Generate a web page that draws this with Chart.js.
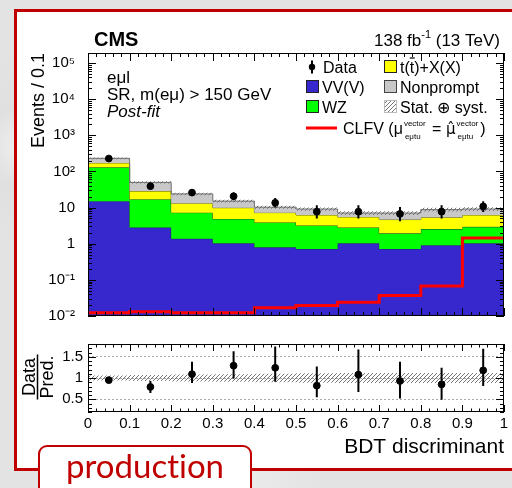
<!DOCTYPE html>
<html>
<head>
<meta charset="utf-8">
<script src="https://cdn.jsdelivr.net/npm/chart.js@4.4.1/dist/chart.umd.min.js"></script>
<style>
html,body{margin:0;padding:0;}
body{width:512px;height:488px;position:relative;overflow:hidden;
 background:#e3e3e3;
 background-image:radial-gradient(circle at 5% 30%,#f2f2f2 0,#e0e0e0 40px,transparent 90px),
  radial-gradient(circle at 40% 100%,#efefef 0,transparent 120px);}
#frame{position:absolute;left:14px;top:9px;width:520px;height:462px;box-sizing:border-box;
 border:3px solid #c00000;background:#fff;}
canvas{position:absolute;left:0;}
#main{top:0;}
#ratio{top:330px;}
#prod{position:absolute;left:38px;top:445px;width:214px;height:60px;box-sizing:border-box;
 border:2.5px solid #c00000;border-radius:9px;background:#fff;color:#c00000;
 font-family:Lato,'Open Sans',sans-serif;font-size:33px;line-height:33px;text-align:center;padding-top:2px;
 font-variant-ligatures:none;}
</style>
</head>
<body>
<div id="frame"></div>
<canvas id="main" width="512" height="330"></canvas>
<canvas id="ratio" width="512" height="130"></canvas>
<div id="prod">production</div>

<script>
// -----------------------------
// DATA
// -----------------------------

const binEdges = [0, 0.1, 0.2, 0.3, 0.4, 0.5, 0.6, 0.7, 0.8, 0.9, 1.0];

const vvv       = [15.1, 2.82, 1.38, 1.03, 0.80, 0.72, 1.03, 0.72, 0.91, 1.03];
const wz        = [116, 14.3, 5.88, 3.82, 3.07, 2.48, 1.79, 1.22, 1.63, 1.90];
const ttx       = [41, 11.5, 6.0, 5.08, 3.39, 3.04, 2.68, 2.73, 2.86, 3.31];
const nonprompt = [59, 21.2, 10.7, 5.2, 3.0, 2.9, 1.6, 2.4, 3.4, 2.9];
const clfv      = [0.0123, 0.0131, 0.0123, 0.0123, 0.0169, 0.0196, 0.0241, 0.0368, 0.0673, 1.44];

const dataVals  = [228, 39.2, 26.0, 20.6, 13.6, 7.7, 7.7, 6.7, 7.7, 10.8];
const dataErrLo = [15, 6.2, 5.0, 4.5, 3.6, 2.7, 2.7, 2.5, 2.7, 3.2];
const dataErrHi = [15, 7.2, 6.1, 5.6, 4.7, 3.9, 3.9, 3.7, 3.9, 4.3];

const uncRel    = [0.06, 0.07, 0.08, 0.09, 0.10, 0.11, 0.12, 0.12, 0.12, 0.12];

const ratioVals = [0.95, 0.79, 1.09, 1.29, 1.24, 0.82, 1.08, 0.93, 0.85, 1.18];
const ratioLo   = [0.92, 0.65, 0.88, 0.99, 0.91, 0.55, 0.67, 0.52, 0.49, 0.81];
const ratioHi   = [0.98, 0.93, 1.38, 1.63, 1.74, 1.27, 1.67, 1.38, 1.24, 1.69];

const yTickVals   = [0.01, 0.1, 1, 10, 100, 1000, 10000, 100000];
const yTickLabels = ["10⁻²", "10⁻¹", "1", "10", "10²", "10³", "10⁴", "10⁵"];
const xTickVals   = [0, 0.1, 0.2, 0.3, 0.4, 0.5, 0.6, 0.7, 0.8, 0.9, 1];
const xTickLabels = ["0", "0.1", "0.2", "0.3", "0.4", "0.5", "0.6", "0.7", "0.8", "0.9", "1"];
const rTickVals   = [0.5, 1, 1.5];
const rTickLabels = ["0.5", "1", "1.5"];

// -----------------------------
// HELPERS
// -----------------------------

const FONT = "'Liberation Sans', Arial, sans-serif";
const DJV = "'DejaVu Sans', sans-serif";
Chart.defaults.font.family = FONT;
Chart.defaults.color = "#000";

const BLUE = "#3628cc", GREEN = "#00ff00", YELLOW = "#ffff00", GRAY = "#c8c8c8";

function stepPts(vals){
return binEdges.map((x,i)=>({x:x, y:vals[Math.min(i, vals.length-1)]}));
}

const centers = binEdges.slice(0,-1).map((x,i)=>(x+binEdges[i+1])/2);

function makeHatch(color){
const c = document.createElement("canvas");
c.width = 4; c.height = 4;
const g = c.getContext("2d");
g.strokeStyle = color; g.lineWidth = 0.9;
g.beginPath();
g.moveTo(0,4); g.lineTo(4,0);
g.moveTo(-1,1); g.lineTo(1,-1);
g.moveTo(3,5); g.lineTo(5,3);
g.stroke();
return g.createPattern(c, "repeat");
}

const hatch = makeHatch("#666");

// cumulative stack
const cum1 = vvv.slice();
const cum2 = cum1.map((v,i)=>v+wz[i]);
const cum3 = cum2.map((v,i)=>v+ttx[i]);
const cum4 = cum3.map((v,i)=>v+nonprompt[i]);
const totLo = cum4.map((v,i)=>v*(1-uncRel[i]));
const totHi = cum4.map((v,i)=>v*(1+uncRel[i]));

function rootFrame(ctx, area){
ctx.save();
ctx.strokeStyle = "#000";
ctx.lineWidth = 1;
ctx.strokeRect(area.left+0.5, area.top+0.5, area.right-area.left-1, area.bottom-area.top-1);
ctx.restore();
}

function tick(ctx, x1, y1, x2, y2){
ctx.moveTo(x1,y1); ctx.lineTo(x2,y2);
}

function xTicks(ctx, chart, maj, mnr){
const xs = chart.scales.x, a = chart.chartArea;
ctx.beginPath();
for(let i=0;i<=50;i++){
const px = Math.round(xs.getPixelForValue(i/50))+0.5;
const len = (i%5===0) ? maj : mnr;
tick(ctx, px, a.bottom, px, a.bottom-len);
tick(ctx, px, a.top, px, a.top+len);
}
ctx.stroke();
}

function errBars(ctx, chart, xsv, lo, hi){
const xs = chart.scales.x, ys = chart.scales.y;
ctx.save();
ctx.strokeStyle = "#000";
ctx.lineWidth = 2;
ctx.beginPath();
xsv.forEach((x,i)=>{
const px = xs.getPixelForValue(x);
tick(ctx, px, ys.getPixelForValue(lo[i]), px, ys.getPixelForValue(hi[i]));
});
ctx.stroke();
ctx.restore();
}

// -----------------------------
// MAIN PANEL
// -----------------------------

const mainDecor = {
id:"mainDecor",
afterDatasetsDraw(chart){
const ctx = chart.ctx;
errBars(ctx, chart, centers,
dataVals.map((v,i)=>v-dataErrLo[i]),
dataVals.map((v,i)=>v+dataErrHi[i]));
},
afterDraw(chart){
const ctx = chart.ctx, a = chart.chartArea, ys = chart.scales.y;
rootFrame(ctx, a);
ctx.save();
ctx.strokeStyle = "#000";
ctx.lineWidth = 1;
xTicks(ctx, chart, 8, 4);
ctx.beginPath();
for(let d=-2; d<=5; d++){
for(let k=1;k<=9;k++){
const v = k*Math.pow(10,d);
if(v>ys.max) continue;
const py = Math.round(ys.getPixelForValue(v))+0.5;
const len = k===1 ? 8 : 4;
tick(ctx, a.left, py, a.left+len, py);
tick(ctx, a.right, py, a.right-len, py);
}
}
ctx.stroke();

// header
ctx.fillStyle = "#000";
ctx.textBaseline = "alphabetic";
ctx.textAlign = "left";
ctx.font = "bold 20px "+FONT;
ctx.fillText("CMS", 94, 46);

const p1 = "138 fb", p3 = " (13 TeV)";
ctx.font = "17px "+FONT; const w1 = ctx.measureText(p1).width, w3 = ctx.measureText(p3).width;
ctx.font = "11px "+FONT; const w2 = ctx.measureText("-1").width;
let x0 = 500 - (w1+w2+w3);
ctx.font = "17px "+FONT; ctx.fillText(p1, x0, 46);
ctx.font = "11px "+FONT; ctx.fillText("-1", x0+w1, 38);
ctx.font = "17px "+FONT; ctx.fillText(p3, x0+w1+w2, 46);

ctx.fillText("eμl", 107, 83);
ctx.fillText("SR, m(eμ) > 150 GeV", 107, 100);
ctx.font = "italic 17px "+FONT;
ctx.fillText("Post-fit", 107, 117);

// legend
const rows = [66.5, 86.5, 106.5];
const c1 = 306, c2 = 384, bw = 13;
function box(x, yc, fill, stroke){
ctx.fillStyle = fill;
ctx.fillRect(x, yc-6.5, bw, bw);
ctx.strokeStyle = stroke; ctx.lineWidth = 1;
ctx.strokeRect(x+0.5, yc-6, bw-1, bw-1);
}
// data marker
ctx.strokeStyle = "#000"; ctx.lineWidth = 2;
ctx.beginPath(); tick(ctx, 312, rows[0]-6, 312, rows[0]+7); ctx.stroke();
ctx.fillStyle = "#000";
ctx.beginPath(); ctx.arc(312, rows[0]+0.5, 3.2, 0, Math.PI*2); ctx.fill();
box(c1, rows[1], BLUE, "#222");
box(c1, rows[2], GREEN, "#222");
box(c2, rows[0], YELLOW, "#222");
box(c2, rows[1], GRAY, "#444");
box(c2, rows[2], hatch, "#bbb");
ctx.fillStyle = "#000";
ctx.font = "16px "+FONT;
ctx.fillText("Data", 323, rows[0]+6);
ctx.fillText("VV(V)", 322, rows[1]+6);
ctx.fillText("WZ", 322, rows[2]+6);
ctx.fillText("Nonprompt", 400, rows[1]+6);
ctx.fillText("Stat. ⊕ syst.", 400, rows[2]+6);

// t(tbar)+X(X) in pieces, with the bar drawn over the antiquark t
let x = 400;
function seg(t, font, y){ ctx.font = font; ctx.fillText(t, x, y); x += ctx.measureText(t).width; }
seg("t(", "16px "+FONT, rows[0]+6);
const tx = x;
seg("t", "16px "+FONT, rows[0]+6);
ctx.strokeStyle = "#000"; ctx.lineWidth = 1.2;
ctx.beginPath(); tick(ctx, tx, rows[0]-8.5, x+0.5, rows[0]-8.5); ctx.stroke();
seg(")+X(X)", "16px "+FONT, rows[0]+6);

// CLFV entry
ctx.strokeStyle = "#ff0000"; ctx.lineWidth = 3;
ctx.beginPath(); tick(ctx, 306, 128, 337, 128); ctx.stroke();
x = 343;
const base = 134;
function supsub(){
ctx.font = "8px "+FONT;
ctx.fillText("vector", x+1, base-8);
ctx.fillText("eμtu", x+2, base+5);
x += ctx.measureText("vector").width + 3;
}
ctx.fillStyle = "#000";
seg("CLFV (μ", "16px "+FONT, base);
supsub();
seg(" = ", "16px "+FONT, base);
seg("μ̂", "15px "+DJV, base);
supsub();
seg(")", "16px "+FONT, base);
ctx.restore();
}
};

new Chart(document.getElementById("main"), {
type:"line",
data:{
datasets:[
{label:"VV(V)", data:stepPts(cum1), stepped:true, fill:"start", backgroundColor:BLUE, borderColor:"#1c1c5a", borderWidth:1, pointRadius:0, order:8},
{label:"WZ", data:stepPts(cum2), stepped:true, fill:0, backgroundColor:GREEN, borderColor:"#1d4d1d", borderWidth:1, pointRadius:0, order:7},
{label:"t(t̄)+X(X)", data:stepPts(cum3), stepped:true, fill:1, backgroundColor:YELLOW, borderColor:"#6a6a20", borderWidth:1, pointRadius:0, order:6},
{label:"Nonprompt", data:stepPts(cum4), stepped:true, fill:2, backgroundColor:GRAY, borderColor:"#707070", borderWidth:1, pointRadius:0, order:5},
{label:"unc lo", data:stepPts(totLo), stepped:true, fill:false, borderColor:"rgba(0,0,0,0)", pointRadius:0, order:4},
{label:"Stat. ⊕ syst.", data:stepPts(totHi), stepped:true, fill:4, backgroundColor:hatch, borderColor:"rgba(0,0,0,0)", pointRadius:0, order:3},
{label:"CLFV", data:stepPts(clfv), stepped:true, fill:false, borderColor:"#ff0000", borderWidth:3, pointRadius:0, order:2},
{label:"Data", data:centers.map((x,i)=>({x:x, y:dataVals[i]})), showLine:false, pointRadius:3.4, pointBackgroundColor:"#000", pointBorderColor:"#000", order:1}
]
},
options:{
responsive:false,
animation:false,
layout:{padding:{left:0, right:8, top:53, bottom:11}},
plugins:{legend:{display:false}, tooltip:{enabled:false}},
scales:{
x:{type:"linear", min:0, max:1, display:false},
y:{type:"logarithmic", min:0.01, max:1.9e5,
afterFit(s){ s.width = 88; },
afterBuildTicks(s){ s.ticks = yTickVals.map(v=>({value:v})); },
ticks:{callback:(v,i)=>yTickLabels[i], font:{size:15}, padding:5, autoSkip:false, color:"#000"},
grid:{display:false}, border:{display:false},
title:{display:true, text:"Events / 0.1", align:"end", color:"#000", font:{size:18}, padding:{top:28}}
}
}
},
plugins:[mainDecor]
});

// -----------------------------
// RATIO PANEL
// -----------------------------

const ratioDecor = {
id:"ratioDecor",
afterDatasetsDraw(chart){
errBars(chart.ctx, chart, centers, ratioLo, ratioHi);
},
afterDraw(chart){
const ctx = chart.ctx, a = chart.chartArea, ys = chart.scales.y;
rootFrame(ctx, a);
ctx.save();
ctx.strokeStyle = "#000"; ctx.lineWidth = 1;
xTicks(ctx, chart, 7, 3.5);
ctx.beginPath();
for(let i=2;i<=18;i++){
const py = Math.round(ys.getPixelForValue(i/10))+0.5;
const len = (i%5===0) ? 8 : 4;
tick(ctx, a.left, py, a.left+len, py);
tick(ctx, a.right, py, a.right-len, py);
}
ctx.stroke();

// Data / Pred. fraction title
ctx.fillStyle = "#000";
ctx.font = "18px "+FONT;
const yc = 377-330;
const wD = ctx.measureText("Data").width, wP = ctx.measureText("Pred.").width;
const half = Math.max(wD,wP)/2 + 1;
ctx.textAlign = "center";
ctx.textBaseline = "alphabetic";
ctx.save(); ctx.translate(35, yc); ctx.rotate(-Math.PI/2); ctx.fillText("Data", 0, 0); ctx.restore();
ctx.save(); ctx.translate(53, yc); ctx.rotate(-Math.PI/2); ctx.fillText("Pred.", 0, 0); ctx.restore();
ctx.lineWidth = 1.5;
ctx.beginPath(); tick(ctx, 37.5, yc-half, 37.5, yc+half); ctx.stroke();
ctx.restore();
}
};

new Chart(document.getElementById("ratio"), {
type:"line",
data:{
datasets:[
{label:"Data/Pred.", data:centers.map((x,i)=>({x:x, y:ratioVals[i]})), showLine:false, pointRadius:3.4, pointBackgroundColor:"#000", pointBorderColor:"#000", order:1},
{label:"unc lo", data:stepPts(uncRel.map(u=>1-u)), stepped:true, fill:false, borderColor:"rgba(0,0,0,0)", pointRadius:0, order:3},
{label:"unc hi", data:stepPts(uncRel.map(u=>1+u)), stepped:true, fill:1, backgroundColor:hatch, borderColor:"rgba(0,0,0,0)", pointRadius:0, order:2}
]
},
options:{
responsive:false,
animation:false,
layout:{padding:{left:0, right:8, top:14, bottom:0}},
plugins:{legend:{display:false}, tooltip:{enabled:false}},
scales:{
x:{type:"linear", min:0, max:1,
afterFit(s){ s.height = 48; },
afterBuildTicks(s){ s.ticks = xTickVals.map(v=>({value:v})); },
ticks:{callback:(v,i)=>xTickLabels[i], font:{size:15}, padding:-5, maxRotation:0, autoSkip:false, color:"#000"},
grid:{display:false}, border:{display:false},
title:{display:true, text:"BDT discriminant", align:"end", color:"#000", font:{size:21}, padding:{top:0, bottom:0}}
},
y:{type:"linear", min:0.2, max:1.8,
afterFit(s){ s.width = 88; },
afterBuildTicks(s){ s.ticks = rTickVals.map(v=>({value:v})); },
ticks:{callback:(v,i)=>rTickLabels[i], font:{size:15}, padding:5, autoSkip:false, color:"#000"},
grid:{display:true, drawTicks:false, color:"#aaa", lineWidth:1},
border:{display:false, dash:[2,2]}
}
}
},
plugins:[ratioDecor]
});
</script>
</body>
</html>
